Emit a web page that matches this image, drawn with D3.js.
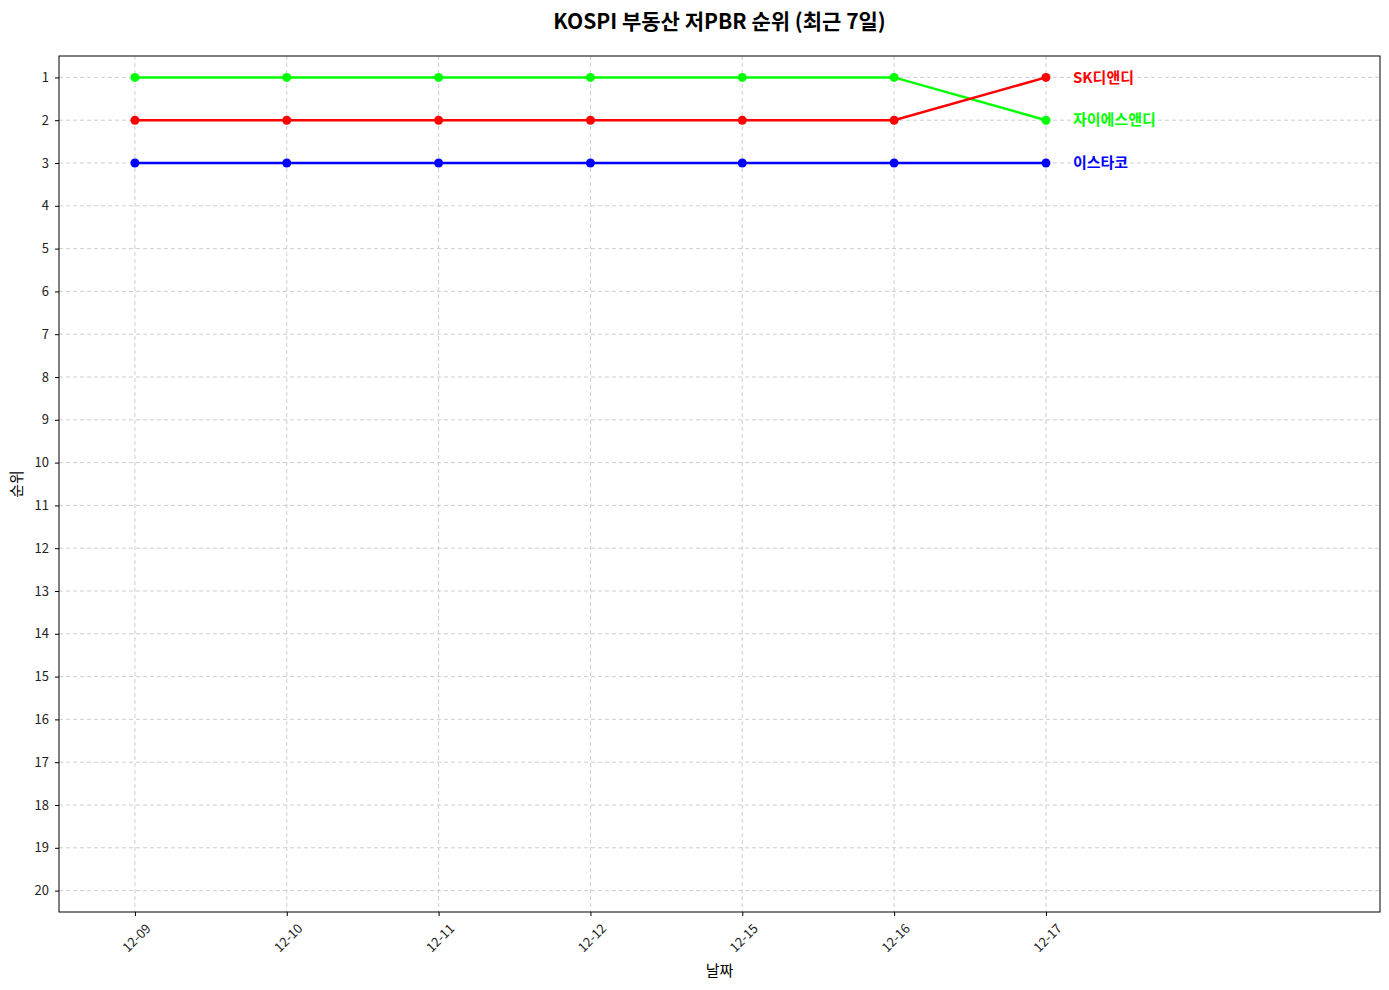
<!DOCTYPE html>
<html><head><meta charset="utf-8">
<script src="https://cdn.jsdelivr.net/npm/d3@7"></script>
<style>body{margin:0;background:#fff;} text{font-family:"Noto Sans CJK KR","Noto Sans",sans-serif;}</style>
</head><body>
<svg id="c" width="1389" height="990"></svg>
<script>
const dates = ["12-09","12-10","12-11","12-12","12-15","12-16","12-17"];
const seriesNames = ["자이에스앤디","SK디앤디","이스타코"];
const seriesColors = ["#00ff00","#ff0000","#0000ff"];
const ranksZai = [1,1,1,1,1,1,2];
const ranksSK = [2,2,2,2,2,2,1];
const ranksEsta = [3,3,3,3,3,3,3];
const yTicks = d3.range(1,21);
const seriesValues = [ranksZai, ranksSK, ranksEsta];

const svg = d3.select("#c");
const L=59,R=1380,T=56,B=912;
const x = d3.scaleLinear().domain([-0.5,8.2]).range([L,R]);
const y = d3.scaleLinear().domain([0.5,20.5]).range([T,B]);

// grid
const g = svg.append("g");
g.selectAll(".hg").data(yTicks).enter().append("line")
 .attr("x1",L).attr("x2",R).attr("y1",d=>y(d)).attr("y2",d=>y(d))
 .attr("stroke","#c8c8c8").attr("stroke-width",0.9).attr("stroke-dasharray","4,3");
g.selectAll(".vg").data(dates).enter().append("line")
 .attr("y1",T).attr("y2",B).attr("x1",(d,i)=>x(i)).attr("x2",(d,i)=>x(i))
 .attr("stroke","#c8c8c8").attr("stroke-width",0.9).attr("stroke-dasharray","4,3");

// axes
const xAxis = d3.axisBottom(x).tickValues(d3.range(dates.length)).tickFormat(i=>dates[i]).tickSize(4).tickPadding(4);
const ax = svg.append("g").attr("transform",`translate(0,${B})`).call(xAxis);
ax.select(".domain").remove();
ax.selectAll("text").attr("font-size",13).attr("fill","#222")
 .attr("text-anchor","end").attr("dx","0.1em").attr("dy","0.5em")
 .attr("transform","translate(5,8) rotate(-45)");
const yAxis = d3.axisLeft(y).tickValues(yTicks).tickSize(4).tickPadding(6);
const ay = svg.append("g").attr("transform",`translate(${L},0)`).call(yAxis);
ay.select(".domain").remove();
ay.selectAll("text").attr("font-size",13).attr("fill","#222");

svg.append("rect").attr("x",L).attr("y",T).attr("width",R-L).attr("height",B-T)
 .attr("fill","none").attr("stroke","#000").attr("stroke-width",1);

// lines
const line = d3.line().x((d,i)=>x(i)).y(d=>y(d));
seriesValues.forEach((vals,k)=>{
  svg.append("path").datum(vals).attr("d",line).attr("fill","none")
   .attr("stroke",seriesColors[k]).attr("stroke-width",2.5);
  svg.selectAll(".p"+k).data(vals).enter().append("circle")
   .attr("cx",(d,i)=>x(i)).attr("cy",d=>y(d)).attr("r",4.5).attr("fill",seriesColors[k]);
  const last = vals[vals.length-1];
  svg.append("text").attr("x",x(vals.length-1)+27).attr("y",y(last)).attr("dy","0.35em")
   .attr("font-size",15).attr("font-weight","bold").attr("fill",seriesColors[k]).text(seriesNames[k]);
});

svg.append("text").attr("x",(L+R)/2).attr("y",29).attr("text-anchor","middle")
 .attr("font-size",21).attr("font-weight","bold").text("KOSPI 부동산 저PBR 순위 (최근 7일)");
svg.append("text").attr("x",(L+R)/2).attr("y",976).attr("text-anchor","middle")
 .attr("font-size",15).text("날짜");
svg.append("text").attr("transform",`translate(22,${(T+B)/2}) rotate(-90)`).attr("text-anchor","middle")
 .attr("font-size",15).text("순위");
</script>
</body></html>
